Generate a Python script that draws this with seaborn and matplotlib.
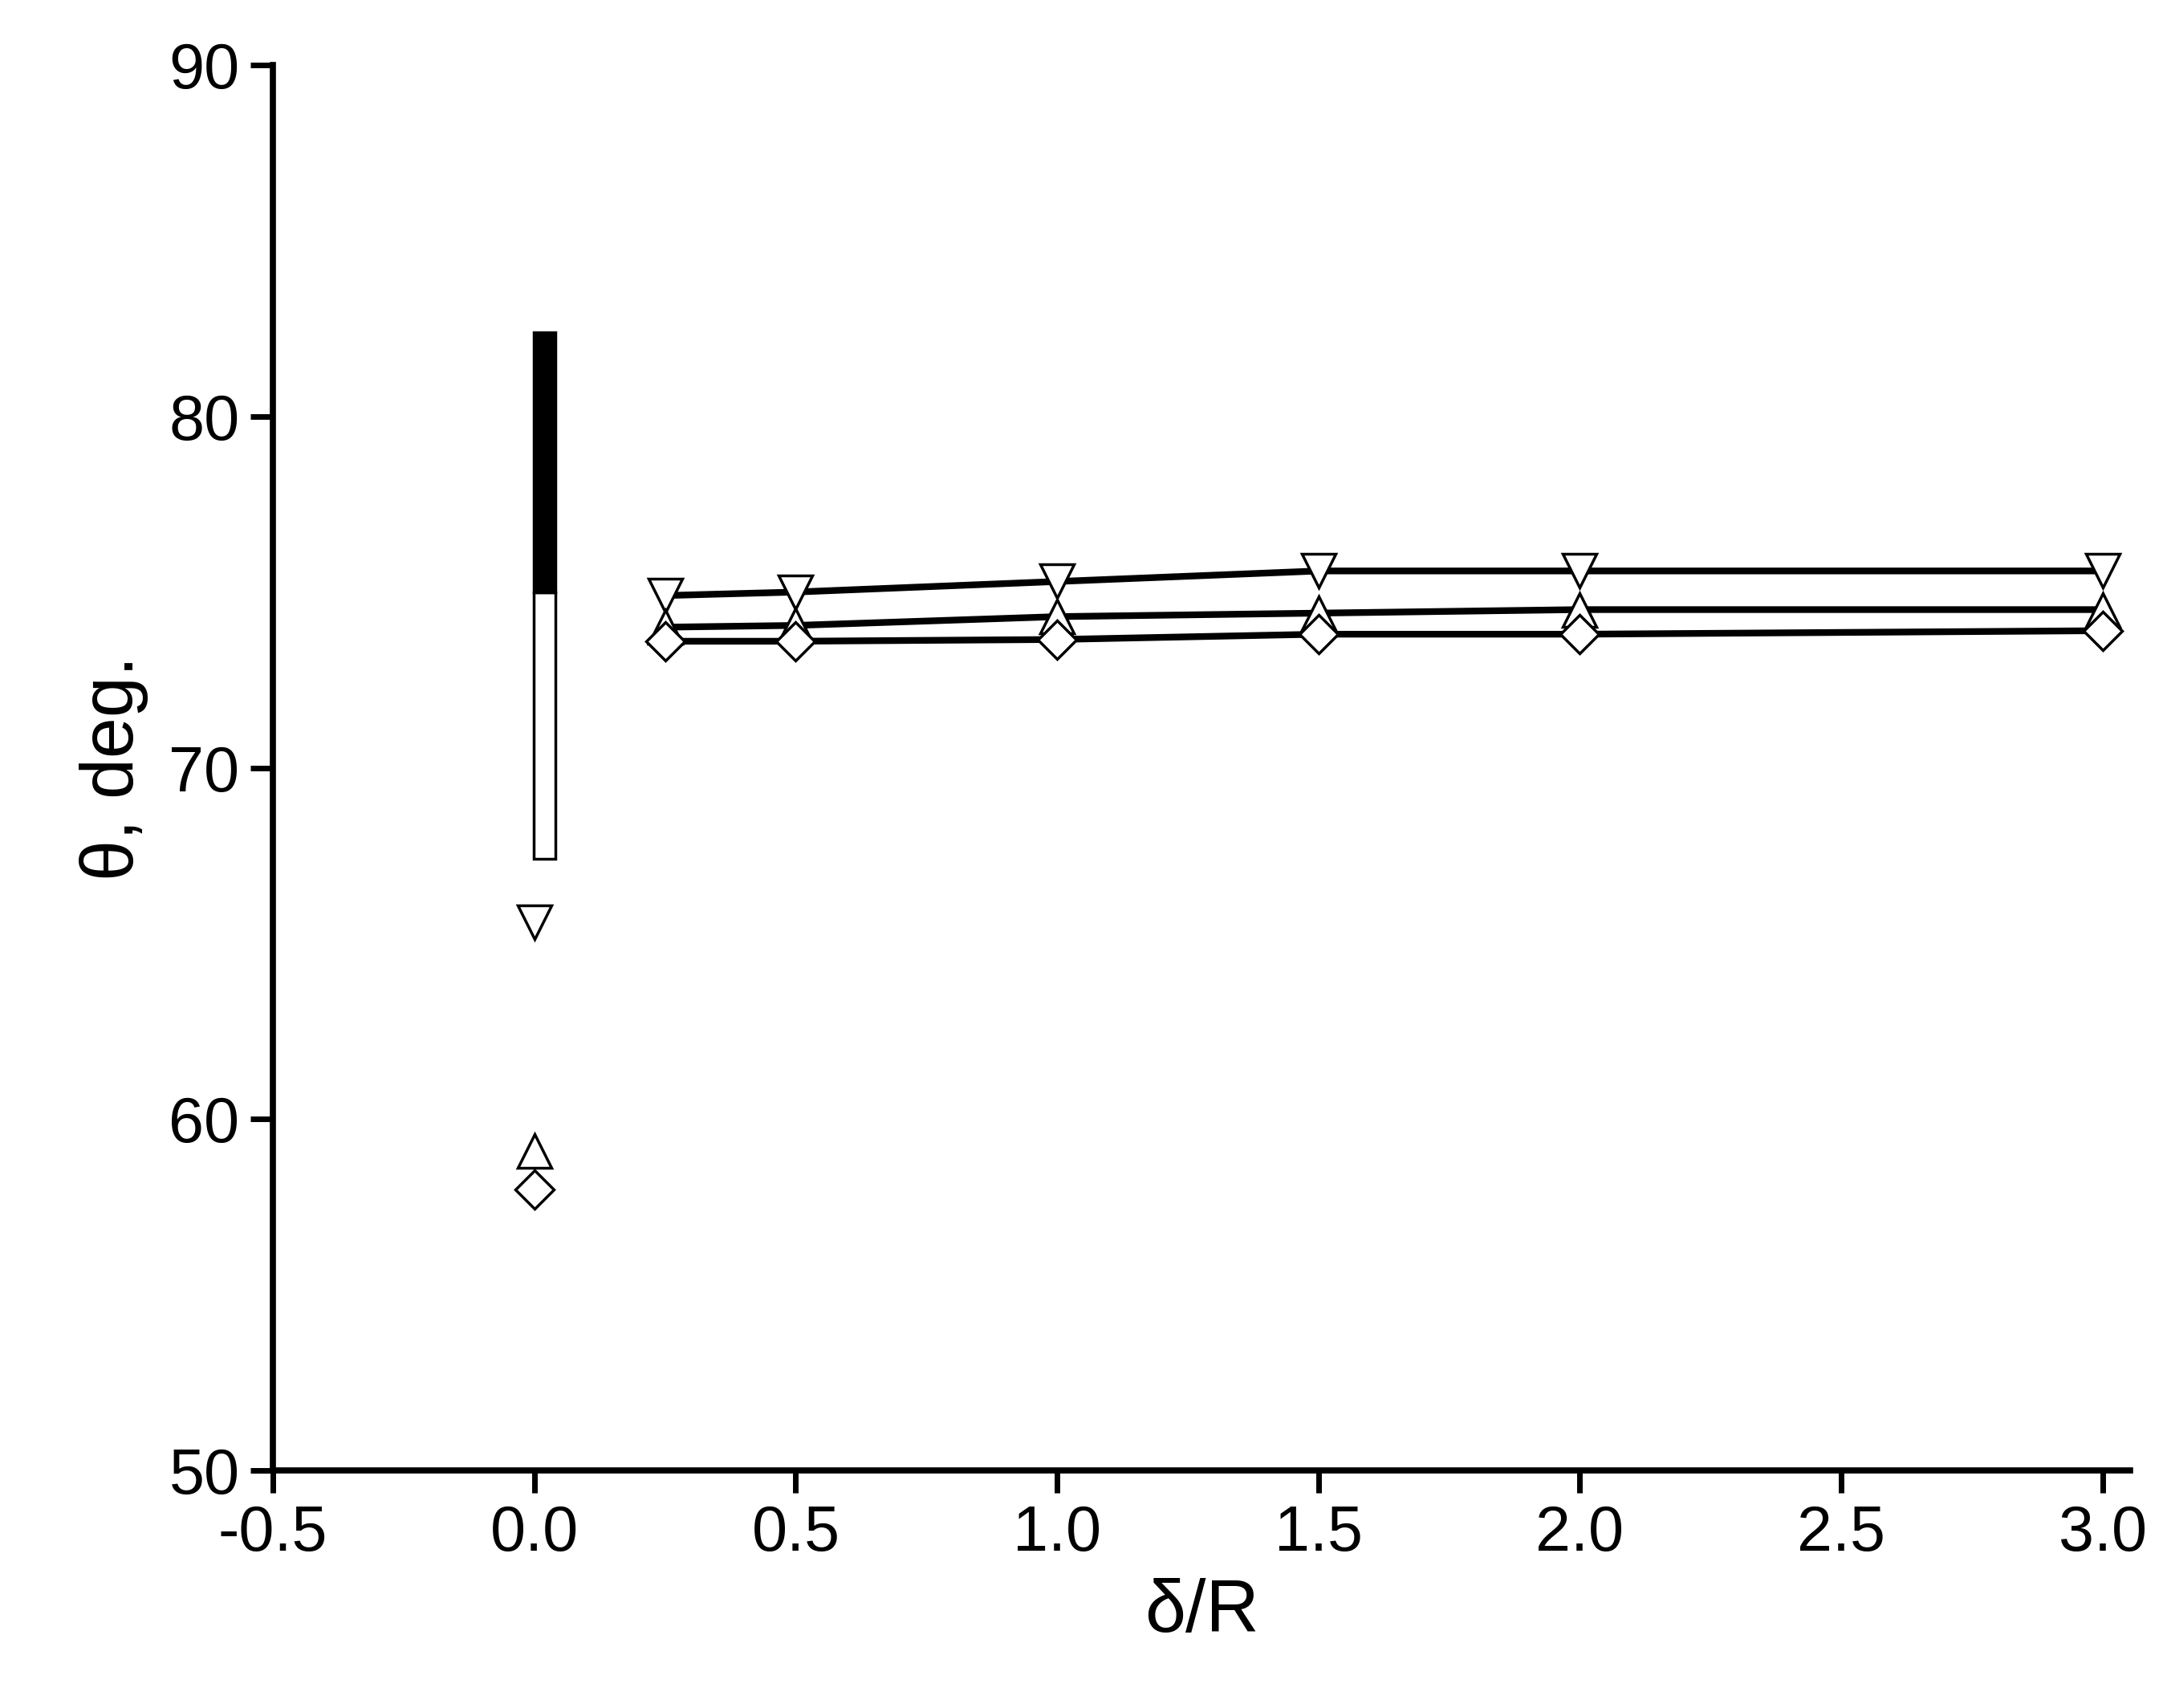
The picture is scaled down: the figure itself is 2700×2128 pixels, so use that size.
import numpy as np
import pandas as pd
import seaborn as sns
import matplotlib.pyplot as plt

# data
x_line = [0.25, 0.5, 1.0, 1.5, 2.0, 3.0]
y_down = [74.9, 75.0, 75.3, 75.6, 75.6, 75.6]
y_up = [74.0, 74.05, 74.3, 74.4, 74.5, 74.5]
y_diam = [73.6, 73.6, 73.65, 73.8, 73.8, 73.9]

# single points at delta/R = 0
x_zero = 0.0
zero_down = 65.6
zero_up = 59.1
zero_diam = 58.0

# range bars at delta/R = 0
bar_x = 0.019
bar_white = (67.4, 75.0)
bar_black = (75.0, 82.4)

sns.set_style("ticks")
plt.rcParams['font.family'] = ['Liberation Sans', 'DejaVu Sans']
for k in ['text.color', 'axes.labelcolor', 'xtick.color', 'ytick.color', 'axes.edgecolor']:
    plt.rcParams[k] = 'black'

fig = plt.figure(figsize=(27, 21.28), dpi=100)
ax = fig.add_axes([0.126, 0.139, 0.857, 0.823])

ax.bar(bar_x, bar_white[1] - bar_white[0], bottom=bar_white[0], width=0.042,
       color='white', edgecolor='black', linewidth=2.5, zorder=2)
ax.bar(bar_x, bar_black[1] - bar_black[0], bottom=bar_black[0], width=0.042,
       color='black', edgecolor='black', linewidth=2.5, zorder=2)

df = pd.DataFrame({'x': x_line, 'down': y_down, 'up': y_up, 'diam': y_diam})
style = dict(color='black', linewidth=6, markersize=30, markerfacecolor='white',
             markeredgecolor='black', markeredgewidth=2.5)
sns.lineplot(data=df, x='x', y='down', marker='v', ax=ax, **style)
sns.lineplot(data=df, x='x', y='up', marker='^', ax=ax, **style)
sns.lineplot(data=df, x='x', y='diam', marker='D', ax=ax, **dict(style, markersize=24))

pts = dict(linestyle='none', markerfacecolor='white', markeredgecolor='black', markeredgewidth=2.5)
ax.plot([x_zero], [zero_down], marker='v', markersize=30, **pts)
ax.plot([x_zero], [zero_up], marker='^', markersize=30, **pts)
ax.plot([x_zero], [zero_diam], marker='D', markersize=24, **pts)

ax.set_xlim(-0.5, 3.053)
ax.set_ylim(50, 90)
ax.set_xticks(np.arange(-0.5, 3.01, 0.5))
ax.set_xticklabels(['-0.5', '0.0', '0.5', '1.0', '1.5', '2.0', '2.5', '3.0'])
ax.set_yticks([50, 60, 70, 80, 90])
ax.set_xlabel('δ/R', fontsize=66, labelpad=12)
ax.set_ylabel('θ, deg.', fontsize=66, labelpad=18)
ax.tick_params(axis='both', labelsize=57, width=5, length=20, direction='out', pad=10)
for s in ['left', 'bottom']:
    ax.spines[s].set_linewidth(5.5)
sns.despine(ax=ax)

fig.savefig('out.png', dpi=100)
